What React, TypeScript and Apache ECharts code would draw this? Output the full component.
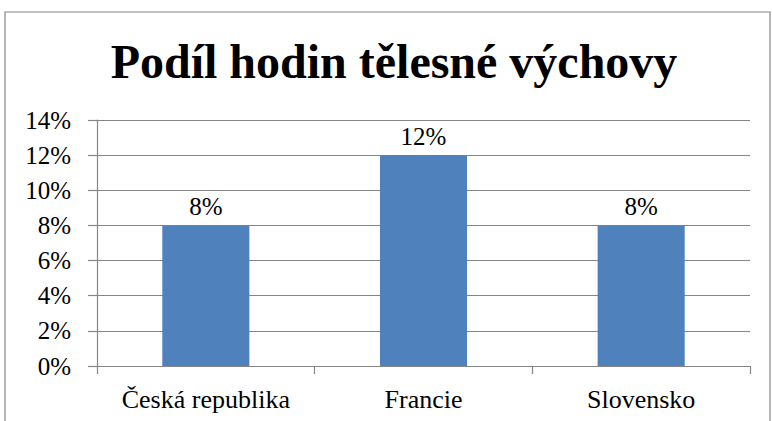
import React, { useEffect, useRef } from "react";
import * as echarts from "echarts";

const TITLE = "Podíl hodin tělesné výchovy";
const categories = ["Česká republika", "Francie", "Slovensko"];
const values = [0.08, 0.12, 0.08];
const yMin = 0;
const yMax = 0.14;
const yInterval = 0.02;

const FONT = "'Liberation Serif', 'Times New Roman', serif";

export default function App() {
  const ref = useRef<HTMLDivElement>(null);
  useEffect(() => {
    document.body.style.margin = "0";
    if (!ref.current) return;
    const chart = echarts.init(ref.current, null, { renderer: "svg" });
    const pct = (v: number) => `${Math.round(v * 100)}%`;
    chart.setOption({
      animation: false,
      backgroundColor: "#ffffff",
      textStyle: { fontFamily: FONT, color: "#000" },
      graphic: [
        {
          type: "rect",
          shape: { x: 5, y: 12, width: 765, height: 430 },
          style: { fill: "none", stroke: "#868686", lineWidth: 1.2 },
          silent: true,
        },
        {
          type: "text",
          x: 394,
          y: 61,
          style: {
            text: TITLE,
            font: `bold 48px ${FONT}`,
            fill: "#000",
            align: "center",
            verticalAlign: "middle",
          },
        },
      ],
      grid: { left: 97, right: 22, top: 120, bottom: 55, containLabel: false },
      xAxis: {
        type: "category",
        data: categories,
        axisLine: { show: true, lineStyle: { color: "#868686", width: 1.2 } },
        axisTick: { show: true, alignWithLabel: false, interval: 0, length: 8, lineStyle: { color: "#868686", width: 1.2 } },
        axisLabel: { color: "#000", fontFamily: FONT, fontSize: 26, margin: 20, interval: 0, hideOverlap: false },
        splitLine: { show: false },
      },
      yAxis: {
        type: "value",
        min: yMin,
        max: yMax,
        interval: yInterval,
        axisLine: { show: true, lineStyle: { color: "#868686", width: 1.2 } },
        axisTick: { show: true, length: 9, lineStyle: { color: "#868686", width: 1.2 } },
        axisLabel: { color: "#000", fontFamily: FONT, fontSize: 25, margin: 26, formatter: pct },
        splitLine: { show: true, lineStyle: { color: "#868686", width: 1.2 } },
      },
      series: [
        {
          type: "bar",
          data: values,
          barWidth: "40%",
          itemStyle: { color: "#4F81BD" },
          label: {
            show: true,
            position: "top",
            distance: 6,
            color: "#000",
            fontFamily: FONT,
            fontSize: 25,
            formatter: (p: any) => pct(p.value),
          },
        },
      ],
    });
    return () => chart.dispose();
  }, []);
  return <div ref={ref} style={{ width: 772, height: 421 }} />;
}
